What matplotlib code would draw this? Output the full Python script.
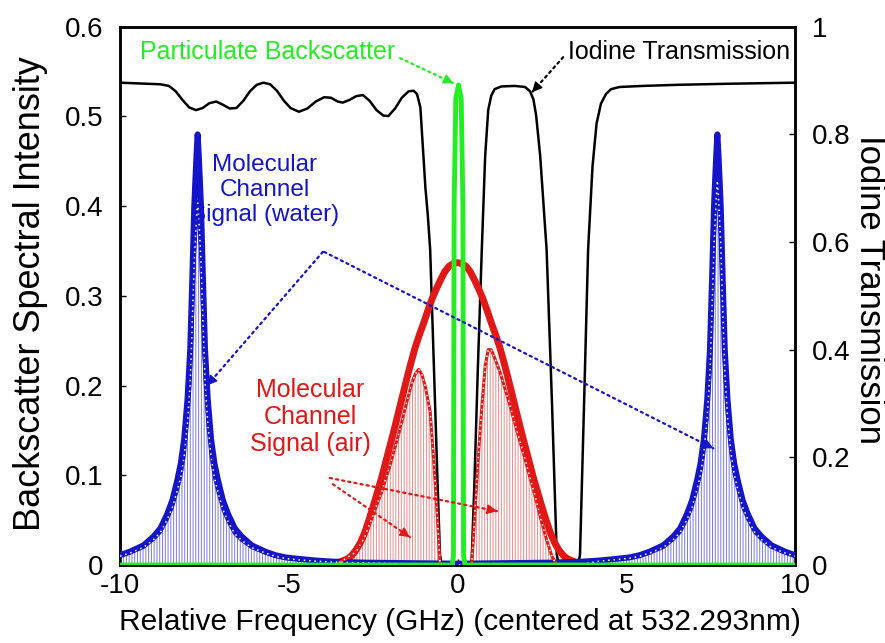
import numpy as np
import matplotlib
matplotlib.use("Agg")
import matplotlib.pyplot as plt

plt.rcParams['font.family'] = ['Liberation Sans', 'DejaVu Sans']
plt.rcParams['axes.unicode_minus'] = False
plt.rcParams['hatch.linewidth'] = 0.7

# ---------------- data ----------------
# Iodine transmission (right axis)
iodine_freq = [-10.0, -9.6, -9.2, -8.8, -8.55, -8.35, -8.15, -7.95, -7.75, -7.55, -7.35, -7.15,
               -6.95, -6.75, -6.55, -6.35, -6.15, -5.95, -5.75, -5.55, -5.35, -5.15, -4.95, -4.7,
               -4.45, -4.2, -3.95, -3.75, -3.55, -3.4, -3.2, -3.0, -2.8, -2.6, -2.4, -2.2, -2.05,
               -1.85, -1.65, -1.45, -1.3, -1.2, -1.1, -1.02, -0.95, -0.88, -0.81, -0.7, -0.6,
               -0.52, -0.47, 0.37, 0.42, 0.5, 0.6, 0.72, 0.82, 0.91, 1.0, 1.1, 1.3, 1.7, 2.0,
               2.15, 2.25, 2.33, 2.45, 2.64, 2.8, 2.94, 3.0, 3.58, 3.63, 3.75, 3.87, 4.0, 4.12,
               4.25, 4.4, 4.55, 4.8, 5.5, 6.5, 8.0, 10.0]
iodine_trans = [0.896, 0.895, 0.894, 0.893, 0.890, 0.880, 0.864, 0.850, 0.845, 0.849, 0.858, 0.861,
                0.855, 0.848, 0.849, 0.862, 0.880, 0.892, 0.896, 0.893, 0.881, 0.863, 0.849, 0.842,
                0.848, 0.861, 0.869, 0.868, 0.861, 0.859, 0.864, 0.871, 0.873, 0.862, 0.845, 0.835, 0.834,
                0.848, 0.868, 0.880, 0.881, 0.875, 0.850, 0.770, 0.700, 0.650, 0.586, 0.370, 0.170,
                0.020, 0.0, 0.0, 0.010, 0.150, 0.360, 0.586, 0.760, 0.845, 0.872, 0.884, 0.889, 0.890, 0.888,
                0.880, 0.865, 0.835, 0.760, 0.586, 0.300, 0.020, 0.0, 0.0, 0.020, 0.300, 0.586, 0.740, 0.820,
                0.857, 0.875, 0.884, 0.888, 0.890, 0.892, 0.894, 0.896]

# Molecular signal, water (Brillouin peaks at about +-7.7 GHz)
water_freq = [-10.0, -9.7, -9.3, -9.0, -8.8, -8.6, -8.45, -8.3, -8.2, -8.1, -8.0, -7.92, -7.85, -7.8,
              -7.76, -7.73, -7.7, -7.67, -7.64, -7.6, -7.55, -7.48, -7.4, -7.3, -7.2, -7.1, -6.95,
              -6.8, -6.6, -6.4, -6.1, -5.7, -5.4, -5.1, -4.7, -4.2, -3.7, -2.7, 0.0,
              2.7, 3.7, 4.2, 4.7, 5.1, 5.4, 5.7, 6.1, 6.4, 6.6, 6.8, 6.95, 7.1, 7.2, 7.3, 7.4, 7.48,
              7.55, 7.6, 7.64, 7.67, 7.7, 7.73, 7.76, 7.8, 7.85, 7.92, 8.0, 8.1, 8.2, 8.3, 8.45, 8.6,
              8.8, 9.0, 9.3, 9.7, 10.0]
water_signal = [0.011, 0.015, 0.022, 0.032, 0.041, 0.057, 0.072, 0.095, 0.113, 0.140, 0.185, 0.240, 0.330, 0.400,
                0.435, 0.460, 0.480, 0.460, 0.435, 0.400, 0.330, 0.240, 0.185, 0.140, 0.113, 0.095, 0.072,
                0.057, 0.041, 0.032, 0.022, 0.015, 0.011, 0.0085, 0.0068, 0.005, 0.0038, 0.0026, 0.0015,
                0.0026, 0.0038, 0.005, 0.0068, 0.0085, 0.011, 0.015, 0.022, 0.032, 0.041, 0.057, 0.072, 0.095,
                0.113, 0.140, 0.185, 0.240, 0.330, 0.400, 0.435, 0.460, 0.480, 0.460, 0.435, 0.400, 0.330,
                0.240, 0.185, 0.140, 0.113, 0.095, 0.072, 0.057, 0.041, 0.032, 0.022, 0.015, 0.011]
# after the iodine filter
water_filtered = [0.0099, 0.0134, 0.0197, 0.0286, 0.0366, 0.0508, 0.0638, 0.0833, 0.0981, 0.1205, 0.158,
                  0.2038, 0.2795, 0.3384, 0.3676, 0.3887, 0.4056, 0.3887, 0.368, 0.3388, 0.2802, 0.2045,
                  0.1582, 0.1201, 0.0972, 0.0817, 0.0616, 0.0484, 0.0348, 0.0275, 0.0194, 0.0134, 0.0097,
                  0.0073, 0.0057, 0.0043, 0.0033, 0.0022, 0.0,
                  0.0012, 0.0008, 0.0043, 0.006, 0.0076, 0.0098, 0.0134, 0.0196, 0.0285, 0.0366, 0.0508,
                  0.0643, 0.0848, 0.1009, 0.125, 0.1652, 0.2143, 0.2947, 0.3572, 0.3885, 0.4108, 0.4286,
                  0.4108, 0.3885, 0.3576, 0.295, 0.2146, 0.1654, 0.1252, 0.101, 0.085, 0.0644, 0.051,
                  0.0367, 0.0286, 0.0197, 0.0134, 0.0098]

# Molecular signal, air (Rayleigh-Brillouin)
air_freq = [-4.0, -3.5, -3.25, -3.125, -3.0, -2.875, -2.75, -2.625, -2.5, -2.375, -2.25, -2.125, -2.0,
            -1.875, -1.75, -1.625, -1.5, -1.375, -1.25, -1.125, -1.0, -0.875, -0.75, -0.625, -0.5,
            -0.375, -0.25, -0.125, 0.0, 0.125, 0.25, 0.375, 0.5, 0.625, 0.75, 0.875, 1.0, 1.125, 1.25,
            1.375, 1.5, 1.625, 1.75, 1.875, 2.0, 2.125, 2.25, 2.375, 2.5, 2.625, 2.75, 2.875, 3.0,
            3.125, 3.25, 3.5, 4.0]
air_signal = [0.001, 0.003, 0.007, 0.011, 0.017, 0.025, 0.036, 0.050, 0.065, 0.081, 0.097, 0.115, 0.133,
              0.151, 0.170, 0.189, 0.208, 0.226, 0.243, 0.257, 0.270, 0.284, 0.297, 0.308, 0.318,
              0.327, 0.333, 0.336, 0.337, 0.336, 0.333, 0.327, 0.318, 0.308, 0.297, 0.284, 0.270, 0.257,
              0.243, 0.226, 0.208, 0.189, 0.170, 0.151, 0.133, 0.115, 0.097, 0.081, 0.065, 0.050, 0.036,
              0.025, 0.017, 0.011, 0.007, 0.003, 0.001]
air_left_freq = [-3.5, -3.0, -2.75, -2.5, -2.25, -2.0, -1.75, -1.5, -1.35, -1.25, -1.15, -1.05, -0.95,
                 -0.81, -0.7, -0.6, -0.52, -0.47]
air_left_filtered = [0.0026, 0.0148, 0.031, 0.056, 0.081, 0.111, 0.145, 0.182, 0.203, 0.213, 0.218, 0.212,
                     0.198, 0.171, 0.114, 0.056, 0.003, 0.0]
air_right_freq = [0.42, 0.5, 0.6, 0.72, 0.82, 0.91, 1.0, 1.1, 1.25, 1.5, 1.75, 2.0, 2.15, 2.3, 2.45, 2.64,
                  2.8, 2.94, 3.0]
air_right_filtered = [0.0, 0.048, 0.112, 0.176, 0.222, 0.240, 0.240, 0.231, 0.216, 0.185, 0.151, 0.118,
                      0.097, 0.077, 0.054, 0.028, 0.0096, 0.0003, 0.0]

# Particulate (aerosol) backscatter
particle_freq = [-10.0, -0.16, -0.12, -0.1, -0.05, 0.03, 0.11, 0.16, 0.18, 0.22, 10.0]
particle_signal = [0.0, 0.0, 0.01, 0.40, 0.52, 0.535, 0.52, 0.40, 0.01, 0.0, 0.0]

x_ticks = [-10, -5, 0, 5, 10]
x_ticklabels = ['-10', '-5', '0', '5', '10']
y_ticks = [0, 0.1, 0.2, 0.3, 0.4, 0.5, 0.6]
y_ticklabels = ['0', '0.1', '0.2', '0.3', '0.4', '0.5', '0.6']
y2_ticks = [0, 0.2, 0.4, 0.6, 0.8, 1.0]
y2_ticklabels = ['0', '0.2', '0.4', '0.6', '0.8', '1']

# ---------------- colours ----------------
BLUE = '#1414c8'
RED = '#e01818'
GREEN = '#22ee22'
BLUE_H = '#7a7ae6'
RED_H = '#f08a8a'

fig = plt.figure(figsize=(8.85, 6.43), dpi=100)
ax = fig.add_axes([120 / 885, 78 / 643, 675 / 885, 538.3 / 643])
ax2 = ax.twinx()
ax.set_zorder(ax2.get_zorder() + 1)
ax.patch.set_visible(False)

# iodine transmission
ax2.plot(iodine_freq, iodine_trans, color='black', lw=1.8, solid_joinstyle='round')
ax2.set_ylim(0, 1)

# filtered fills
ax.fill_between(water_freq, 0, water_filtered, facecolor='white', edgecolor=BLUE_H,
                hatch='||||||', linewidth=0, zorder=2)
ax.fill_between(air_left_freq, 0, air_left_filtered, facecolor='white', edgecolor=RED_H,
                hatch='||||||', linewidth=0, zorder=2)
ax.fill_between(air_right_freq, 0, air_right_filtered, facecolor='white', edgecolor=RED_H,
                hatch='||||||', linewidth=0, zorder=2)

# molecular curves
ax.plot(air_freq, air_signal, color=RED, lw=5, zorder=3, solid_joinstyle='round')
ax.plot(water_freq, water_signal, color=BLUE, lw=4.3, zorder=4, solid_joinstyle='round')

# filtered outlines
for fx, fy, c in [(water_freq, water_filtered, BLUE), (air_left_freq, air_left_filtered, RED),
                  (air_right_freq, air_right_filtered, RED)]:
    ax.plot(fx, fy, color=c, lw=2.2, zorder=5)
    ax.plot(fx, fy, color='white', lw=1.1, ls=(0, (1, 2.5)), zorder=5.5)

# particulate spike
ax.plot(particle_freq, particle_signal, color=GREEN, lw=3.5, zorder=6, solid_joinstyle='round')

ax.set_xlim(-10, 10)
ax.set_ylim(0, 0.6)
ax.set_xticks(x_ticks)
ax.set_xticklabels(x_ticklabels)
ax.set_yticks(y_ticks)
ax.set_yticklabels(y_ticklabels)
ax2.set_yticks(y2_ticks)
ax2.set_yticklabels(y2_ticklabels)

for a in (ax, ax2):
    for s in a.spines.values():
        s.set_linewidth(1.8)
ax.tick_params(axis='both', direction='in', length=4, width=1, labelsize=20)
ax.tick_params(axis='y', pad=12)
ax.tick_params(axis='x', pad=6)
ax2.tick_params(axis='y', direction='in', length=4, width=1, labelsize=20, pad=12)

fig.text(31 / 885, (643 - 294) / 643, 'Backscatter Spectral Intensity', rotation=90,
         ha='center', va='center', fontsize=26)
fig.text(869 / 885, (643 - 290) / 643, 'Iodine Transmission', rotation=270,
         ha='center', va='center', fontsize=25)
fig.text(460 / 885, (643 - 622) / 643, 'Relative Frequency (GHz) (centered at 532.293nm)',
         ha='center', va='center', fontsize=21.5)

# ---------------- annotations ----------------
def dotted_arrow(start, end, color, lw=1.6):
    ax.annotate('', xy=end, xytext=start,
                arrowprops=dict(arrowstyle='-', color=color, lw=lw, ls=(0, (1, 1.8)),
                                shrinkA=0, shrinkB=0), zorder=7)
    ax.annotate('', xy=end, xytext=(end[0] - (end[0] - start[0]) * 0.02,
                                    end[1] - (end[1] - start[1]) * 0.02),
                arrowprops=dict(arrowstyle='-|>,head_length=0.6,head_width=0.3', color=color,
                                lw=1, shrinkA=0, shrinkB=0), zorder=7)

ax.text(-5.63, 0.572, 'Particulate Backscatter', color=GREEN, fontsize=18,
        ha='center', va='center', zorder=8)
dotted_arrow((-1.70, 0.565), (-0.12, 0.537), GREEN)

ax.text(3.27, 0.572, 'Iodine Transmission', color='black', fontsize=18,
        ha='left', va='center', zorder=8)
dotted_arrow((3.13, 0.566), (2.21, 0.527), 'black')

ax.text(-5.72, 0.418, 'Molecular\nChannel\nSignal (water)', color=BLUE, fontsize=17.5,
        ha='center', va='center', linespacing=1.15, zorder=8)
dotted_arrow((-3.99, 0.349), (-7.42, 0.200), BLUE)
dotted_arrow((-3.95, 0.349), (7.58, 0.130), BLUE)

ax.text(-4.37, 0.165, 'Molecular\nChannel\nSignal (air)', color=RED, fontsize=18,
        ha='center', va='center', linespacing=1.15, zorder=8)
dotted_arrow((-3.78, 0.097), (1.17, 0.060), RED)
dotted_arrow((-3.69, 0.090), (-1.41, 0.031), RED)

fig.savefig('out.png', dpi=100)
